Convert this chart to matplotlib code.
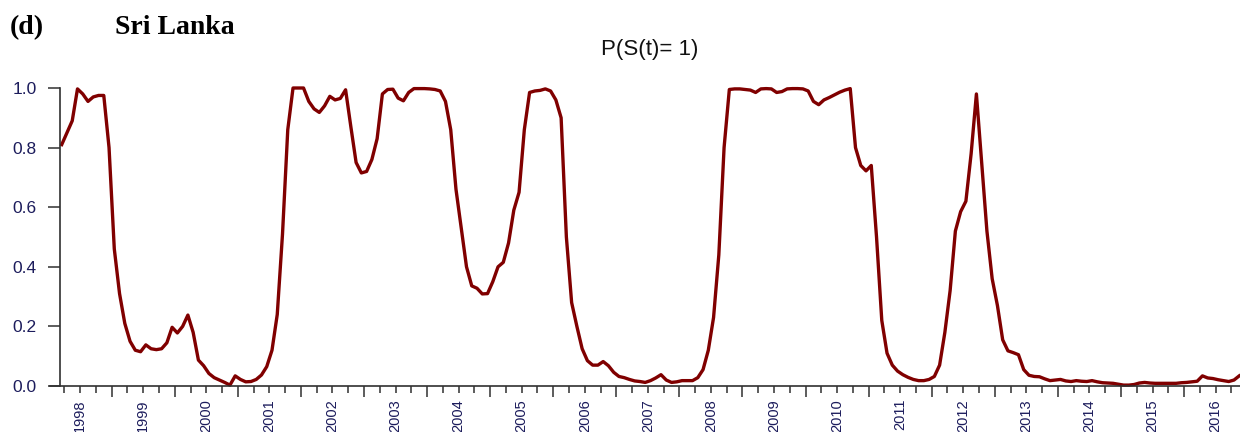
import numpy as np
import pandas as pd
import matplotlib
matplotlib.use("Agg")
import matplotlib.pyplot as plt
from matplotlib.transforms import offset_copy

# Smoothed probability of regime 1, monthly, 1998M03 - 2016M11
start_month = "1998-03"
end_month = "2016-11"
prob = [
    0.81, 0.85, 0.89, 0.997, 0.98, 0.955, 0.97, 0.975, 0.975, 0.80,   # 1998M03-
    0.46, 0.31, 0.21, 0.15, 0.12, 0.115, 0.138, 0.125, 0.122, 0.125,
    0.145, 0.197, 0.178, 0.20, 0.238, 0.18, 0.087, 0.068, 0.042, 0.028,
    0.02, 0.012, 0.003, 0.034, 0.022, 0.014, 0.015, 0.022, 0.037, 0.065,
    0.12, 0.24, 0.51, 0.86, 1.0, 1.0, 1.0, 0.955, 0.93, 0.918,
    0.94, 0.972, 0.96, 0.965, 0.994, 0.87, 0.75, 0.715, 0.72, 0.76,
    0.83, 0.98, 0.995, 0.996, 0.966, 0.957, 0.985, 0.998, 0.998, 0.998,
    0.997, 0.995, 0.99, 0.955, 0.86, 0.66, 0.53, 0.40, 0.336, 0.328,
    0.309, 0.31, 0.35, 0.40, 0.415, 0.48, 0.59, 0.65, 0.86, 0.985,
    0.99, 0.992, 0.997, 0.99, 0.96, 0.90, 0.50, 0.28, 0.20, 0.125,
    0.085, 0.07, 0.07, 0.082, 0.068, 0.046, 0.032, 0.028, 0.022, 0.017,
    0.015, 0.012, 0.018, 0.027, 0.038, 0.02, 0.012, 0.014, 0.018, 0.018,
    0.018, 0.028, 0.055, 0.12, 0.23, 0.44, 0.80, 0.995, 0.997, 0.997,
    0.995, 0.993, 0.985, 0.997, 0.998, 0.997, 0.985, 0.988, 0.997, 0.998,
    0.998, 0.997, 0.99, 0.955, 0.944, 0.96, 0.968, 0.977, 0.986, 0.993,
    0.998, 0.80, 0.74, 0.722, 0.74, 0.50, 0.22, 0.11, 0.07, 0.05,
    0.038, 0.029, 0.022, 0.018, 0.018, 0.022, 0.032, 0.07, 0.18, 0.32,
    0.52, 0.585, 0.62, 0.78, 0.98, 0.75, 0.52, 0.36, 0.27, 0.155,
    0.118, 0.112, 0.105, 0.055, 0.036, 0.032, 0.031, 0.024, 0.018, 0.02,
    0.022, 0.017, 0.015, 0.018, 0.016, 0.015, 0.018, 0.014, 0.011, 0.01,
    0.009, 0.006, 0.003, 0.003, 0.005, 0.01, 0.012, 0.01, 0.009, 0.009,
    0.009, 0.009, 0.009, 0.011, 0.012, 0.014, 0.016, 0.034, 0.027, 0.025,
    0.021, 0.018, 0.015, 0.02, 0.034,
]
years = list(range(1998, 2017))
y_ticks = [0.0, 0.2, 0.4, 0.6, 0.8, 1.0]

months = pd.period_range(start_month, end_month, freq="M")
x = months.year + (months.month - 0.5) / 12.0

line_color = "#800000"
text_color = "#1c1c5c"

fig = plt.figure(figsize=(12.4, 4.32), dpi=100)
ax = fig.add_axes([60 / 1240, 46 / 432, 1180 / 1240, 298 / 432])

ax.plot(x, prob, color=line_color, lw=2.4, clip_on=False)

ax.set_xlim(1998.181, 2016.887)
ax.set_ylim(0, 1.0)

for side in ["top", "right"]:
    ax.spines[side].set_visible(False)
for side in ["left", "bottom"]:
    ax.spines[side].set_color("#303030")
    ax.spines[side].set_linewidth(1.2)
ax.spines["bottom"].set_bounds(1998.02, 2016.887)

# y axis
ax.set_yticks(y_ticks)
ax.set_yticklabels([f"{v:.1f}" for v in y_ticks], fontsize=12.5,
                   color=text_color, family="Liberation Sans")
ax.tick_params(axis="y", direction="out", length=9, width=1.1,
               color="#303030", pad=8)

# x axis: year ticks, quarterly minor ticks, labels in the middle of each year
ax.set_xticks(years[1:])
ax.set_xticklabels([])
ax.set_xticks([y + q / 4 for y in years for q in (1, 2, 3)], minor=True)
ax.tick_params(axis="x", which="major", direction="out", length=8,
               width=1.1, color="#303030")
ax.tick_params(axis="x", which="minor", direction="out", length=5,
               width=1.1, color="#303030")

lab_trans = offset_copy(ax.get_xaxis_transform(), fig=fig, x=0, y=-13,
                        units="dots")
for yr in years:
    ax.text(yr + 0.5, 0, str(yr), transform=lab_trans, rotation=90,
            ha="center", va="top", fontsize=10.5, color=text_color,
            family="Liberation Sans")

# titles
fig.text(10 / 1240, 1 - 28 / 432, "(d)", fontsize=20, fontweight="bold",
         family="Liberation Serif", va="center", ha="left")
fig.text(115 / 1240, 1 - 28 / 432, "Sri Lanka", fontsize=20,
         fontweight="bold", family="Liberation Serif", va="center", ha="left")
fig.text(650 / 1240, 1 - 50 / 432, "P(S(t)= 1)", fontsize=16,
         family="Liberation Sans", va="center", ha="center", color="#111111")

fig.savefig("out.png", dpi=100)
